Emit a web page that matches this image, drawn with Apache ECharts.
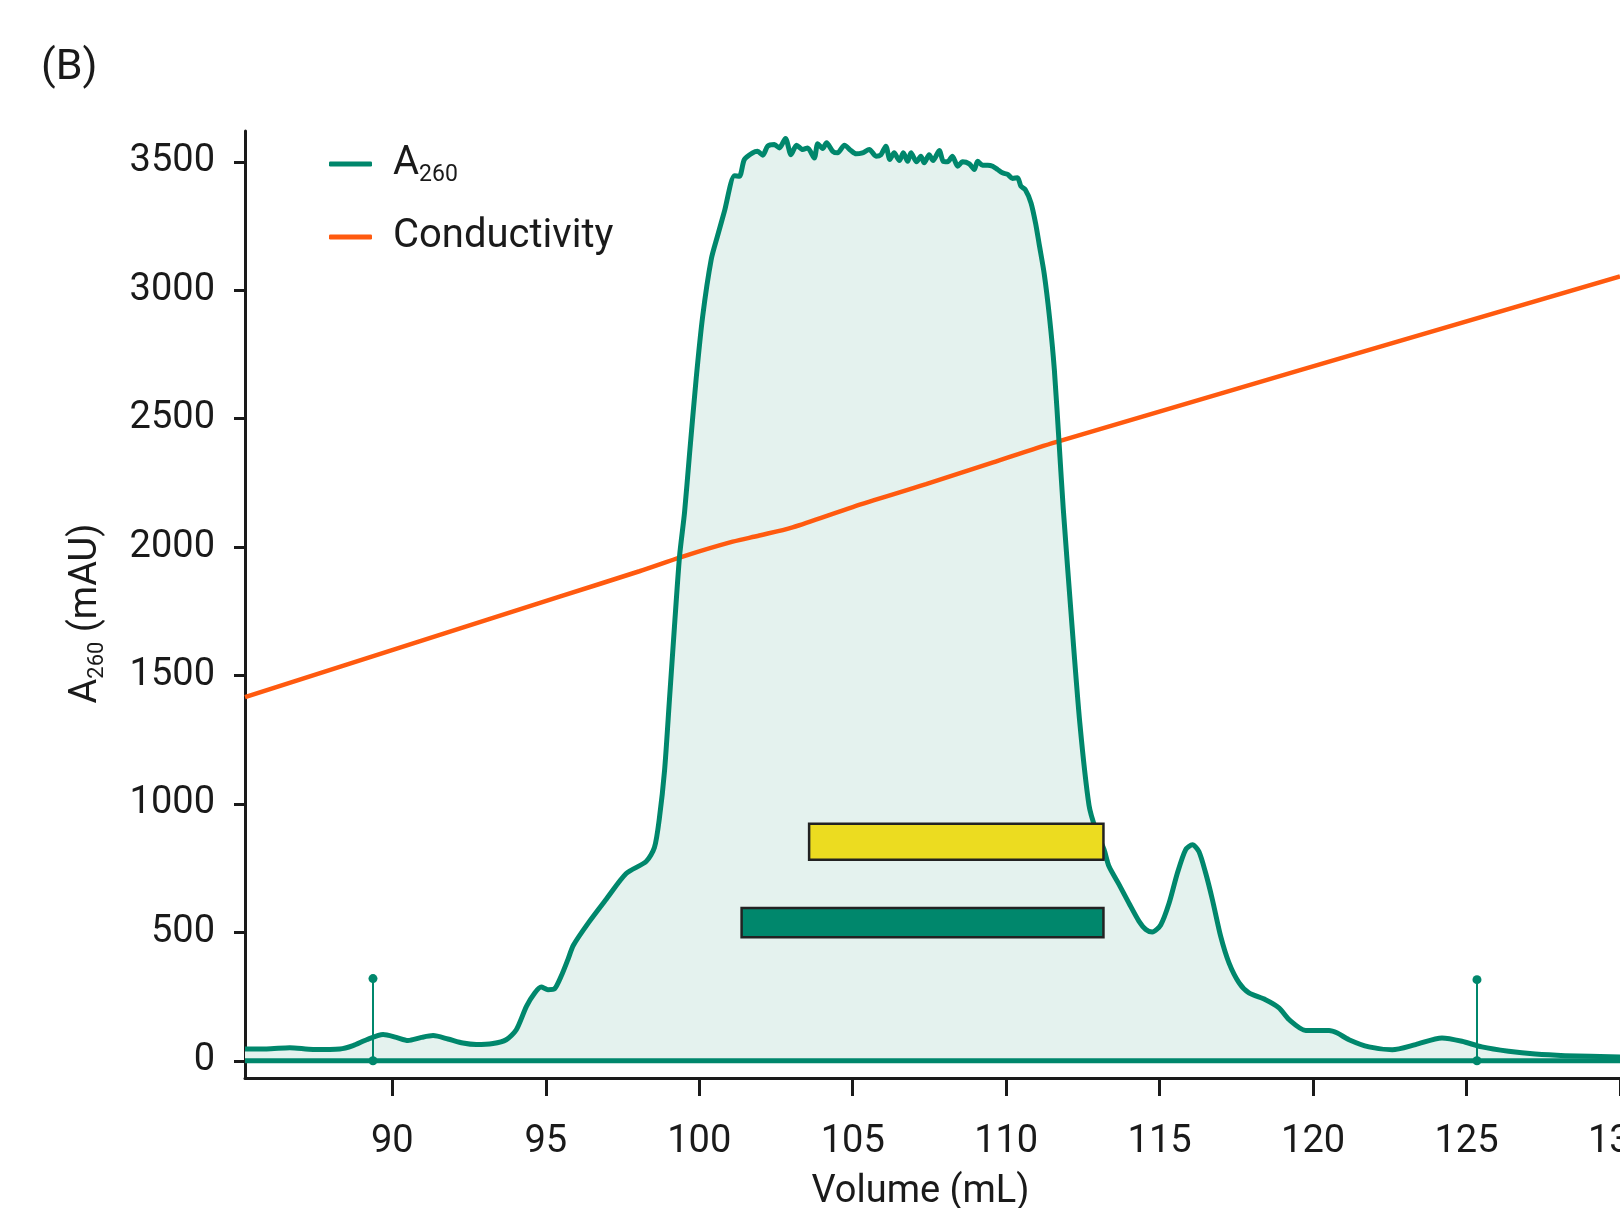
<!DOCTYPE html>
<html><head><meta charset="utf-8">
<script src="https://cdn.jsdelivr.net/npm/echarts@6/dist/echarts.min.js"></script>
<style>html,body{margin:0;padding:0;background:#fff}#c{width:1620px;height:1208px}</style>
</head><body><div id="c"></div>
<script>
// A260 trace (Volume mL, mAU)
const volumeA260 = [85.2,85.9,86.66,87.42,88.29,88.72,89.16,89.7,90.13,90.51,90.95,91.33,91.81,92.3,92.74,93.28,93.71,94.04,94.37,94.64,94.85,95.07,95.29,95.5,95.72,95.9,96.4,96.97,97.62,98.27,98.54,98.7,98.87,99.03,99.19,99.36,99.52,99.68,99.9,100.11,100.39,100.6,100.82,101.15,101.31,101.47,101.74,101.9,102.07,102.23,102.45,102.61,102.81,102.99,103.17,103.37,103.53,103.75,103.86,104.02,104.15,104.35,104.51,104.73,104.94,105.11,105.32,105.54,105.76,105.92,106.08,106.21,106.35,106.52,106.65,106.79,106.9,107.08,107.22,107.33,107.49,107.62,107.82,107.95,108.09,108.25,108.42,108.58,108.8,108.96,109.07,109.23,109.4,109.56,109.72,109.88,110.05,110.21,110.37,110.48,110.62,110.81,110.96,111.08,111.24,111.41,111.57,111.73,111.86,112.13,112.4,112.7,112.92,113.19,113.35,113.68,114.0,114.33,114.55,114.76,115.04,115.31,115.58,115.85,116.07,116.28,116.5,116.72,116.99,117.26,117.59,117.91,118.45,118.89,119.22,119.76,120.3,120.52,120.79,121.17,121.82,122.58,123.34,124.2,124.85,125.5,126.37,127.24,128.21,130];
const a260 = [46,46,51,44,46,59,82,102,91,79,91,98,85,69,63,67,82,121,212,264,287,277,281,329,394,450,539,629,729,776,830,943,1130,1407,1686,1966,2134,2357,2656,2897,3120,3213,3307,3446,3444,3509,3535,3541,3526,3561,3567,3554,3591,3528,3565,3548,3554,3515,3570,3552,3574,3541,3535,3565,3544,3531,3535,3548,3522,3528,3561,3509,3535,3505,3535,3502,3535,3500,3522,3496,3528,3505,3544,3502,3500,3522,3483,3500,3492,3470,3502,3487,3487,3483,3470,3457,3451,3435,3438,3405,3392,3340,3260,3176,3064,2897,2691,2395,2150,1718,1315,994,900,822,757,686,614,543,511,501,530,614,731,822,841,815,731,627,484,381,303,264,238,206,160,118,118,118,108,82,54,43,63,89,76,54,37,26,20,15];
// Conductivity trace drawn on the same scale
const volumeCond = [85.2,95.45,98.05,99.46,101.09,101.96,103.04,105.0,107.39,109.55,111.62,130];
const conductivity = [1416,1807,1906,1963,2021,2045,2077,2156,2245,2329,2409,3054];
// Tick labels
const xTicks = [90,95,100,105,110,115,120,125,130];
const yTicks = [0,500,1000,1500,2000,2500,3000,3500];
// Fraction markers
const fractionX = [89.37, 125.34];
const fractionTop = [320, 316];
// Pool bars
const barStart = [103.58, 101.38];
const barEnd = [113.17, 113.17];
const barLow = [783, 481];
const barHigh = [923, 595];
const barColors = ['#ECDC20', '#00876C'];

const TEAL = '#00876C', ORANGE = '#FF5A0F', INK = '#1a1a1a', FONT = 'Roboto';
const a260Data = volumeA260.map((v, i) => [v, a260[i]]);
const condData = volumeCond.map((v, i) => [v, conductivity[i]]);
const markerSeries = fractionX.map((x, i) => ({
  type: 'line', name: 'frac' + i, z: 4, silent: true,
  data: [[x, 0], [x, fractionTop[i]]],
  symbol: 'circle', symbolSize: 9, showSymbol: true,
  itemStyle: { color: TEAL }, lineStyle: { color: TEAL, width: 2 }
}));
const barData = barStart.map((s, i) => [s, barEnd[i], barLow[i], barHigh[i], i]);

const chart = echarts.init(document.getElementById('c'), null, { renderer: 'canvas' });
chart.setOption({
  animation: false,
  backgroundColor: '#fff',
  title: { text: '(B)', left: 36, top: 42, textStyle: { fontFamily: FONT, fontSize: 43, fontWeight: 'normal', color: INK } },
  grid: { left: 245, right: 0, top: 131, bottom: 130, containLabel: false, outerBoundsMode: 'none' },
  legend: {
    data: ['A260', 'Conductivity'], orient: 'vertical', left: 324, top: 139, itemGap: 30,
    icon: 'roundRect', itemWidth: 43, itemHeight: 5, selectedMode: false,
    formatter: n => n === 'A260' ? '{a|A}{s|260}' : '{a|Conductivity}',
    textStyle: { padding: [0, 0, 0, 16], rich: {
      a: { fontFamily: FONT, fontSize: 40, lineHeight: 46, color: INK },
      s: { fontFamily: FONT, fontSize: 23, lineHeight: 21, verticalAlign: 'bottom', color: INK }
    } }
  },
  xAxis: {
    type: 'value', min: 85.2, max: 130,
    name: 'Volume (mL)', nameLocation: 'middle', nameGap: 95,
    nameTextStyle: { fontFamily: FONT, fontSize: 38, color: INK, padding: [0, 24, 0, 0] },
    axisLine: { show: true, onZero: false, lineStyle: { color: INK, width: 3 } },
    axisTick: { show: true, length: 18, lineStyle: { color: INK, width: 3 }, customValues: xTicks },
    axisLabel: { margin: 45, fontFamily: FONT, fontSize: 38, color: INK, customValues: xTicks, showMaxLabel: true, hideOverlap: false,
      formatter: v => String(v) },
    splitLine: { show: false }
  },
  yAxis: {
    type: 'value', min: -67, max: 3620,
    name: '{a|A}{s|260}{a| (mAU)}', nameLocation: 'middle', nameGap: 137, nameRotate: 90,
    nameTextStyle: { padding: [0, 18, 0, 0], rich: {
      a: { fontFamily: FONT, fontSize: 38, lineHeight: 44, color: INK },
      s: { fontFamily: FONT, fontSize: 22, lineHeight: 20, verticalAlign: 'bottom', color: INK }
    } },
    axisLine: { show: true, lineStyle: { color: INK, width: 3 } },
    axisTick: { show: true, length: 11, lineStyle: { color: INK, width: 3 }, customValues: yTicks },
    axisLabel: { margin: 30, fontFamily: FONT, fontSize: 38, color: INK, customValues: yTicks, padding: [7, 0, 0, 0], formatter: v => String(v) },
    splitLine: { show: false }
  },
  series: [
    { type: 'line', name: 'A260fill', z: 1, silent: true, data: a260Data, smooth: 0.25, showSymbol: false,
      lineStyle: { width: 0, opacity: 0 }, areaStyle: { color: '#E4F2EE', opacity: 1, origin: 0 } },
    { type: 'line', name: 'Conductivity', z: 2, data: condData, smooth: 0.3, showSymbol: false,
      itemStyle: { color: ORANGE }, lineStyle: { color: ORANGE, width: 4.5 } },
    { type: 'line', name: 'baseline', z: 3, silent: true, data: [[85.2, 0], [130, 0]], showSymbol: false,
      lineStyle: { color: TEAL, width: 5 } },
    { type: 'line', name: 'A260', z: 3, data: a260Data, smooth: 0.25, showSymbol: false,
      itemStyle: { color: TEAL }, lineStyle: { color: TEAL, width: 5, join: 'round' } },
    ...markerSeries,
    { type: 'custom', name: 'pools', z: 6, silent: true, data: barData,
      renderItem: (params, api) => {
        const p0 = api.coord([api.value(0), api.value(3)]);
        const p1 = api.coord([api.value(1), api.value(2)]);
        return { type: 'rect', shape: { x: p0[0], y: p0[1], width: p1[0] - p0[0], height: p1[1] - p0[1] },
          style: { fill: barColors[api.value(4)], stroke: '#222', lineWidth: 2.5 } };
      }, encode: { x: [0, 1], y: [2, 3] } }
  ]
});
</script></body></html>
